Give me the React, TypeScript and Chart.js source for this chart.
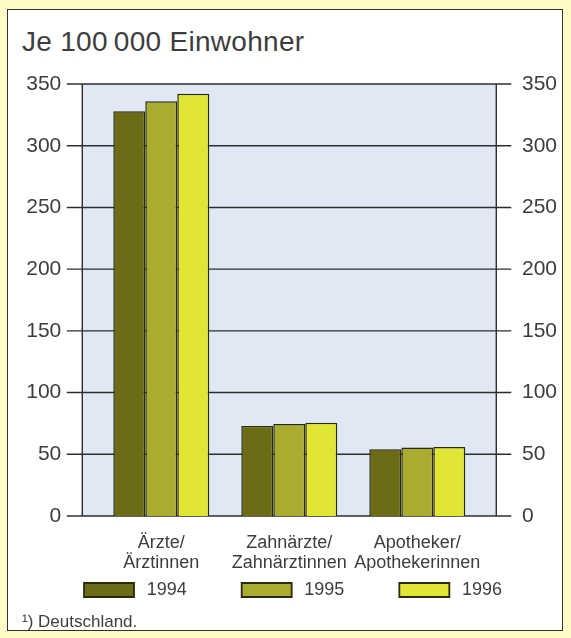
import React, { useEffect, useRef } from 'react';
import { Chart, registerables } from 'chart.js';

Chart.register(...registerables);

// ---- data ----
const categories: string[][] = [
  ['Ärzte/', 'Ärztinnen'],
  ['Zahnärzte/', 'Zahnärztinnen'],
  ['Apotheker/', 'Apothekerinnen'],
];
const seriesLabels = ['1994', '1995', '1996'];
const values1994 = [328, 73, 54];
const values1995 = [336, 74.5, 55.5];
const values1996 = [342, 75.5, 56];
const yTickValues = [0, 50, 100, 150, 200, 250, 300, 350];

const titleText = 'Je 100\u2009000 Einwohner';
const footnoteText = '\u00b9) Deutschland.';

// ---- styles ----
const FONT = "'Liberation Sans', Arial, Helvetica, sans-serif";
const TEXT = '#3d3d3d';
const LINE = '#2e2e2e';
const PANEL = '#dfe8f3';
const BAR_BORDER = '#2a2a0c';
const barColors = ['#6c6c16', '#a9ac2e', '#e1e533'];
const YELLOW = '#fffbc6';
const LEGEND_GAP = '         '; // widens the first legend items to the reference spacing

const panelPlugin = {
  id: 'panelBg',
  beforeDatasetsDraw(chart: any) {
    const { ctx, chartArea: a, scales } = chart;
    const y = scales.y;
    const left = a.left - 15;
    const right = a.right + 15;
    const top = y.getPixelForValue(yTickValues[yTickValues.length - 1]);
    const bottom = y.getPixelForValue(0);
    ctx.save();
    ctx.fillStyle = PANEL;
    ctx.fillRect(left, top, right - left, bottom - top);
    ctx.strokeStyle = LINE;
    ctx.lineWidth = 1.4;
    for (const t of yTickValues) {
      const py = y.getPixelForValue(t);
      ctx.beginPath();
      ctx.moveTo(left - 15.5, py);
      ctx.lineTo(right + 15, py);
      ctx.stroke();
    }
    ctx.beginPath();
    ctx.moveTo(left, top);
    ctx.lineTo(left, bottom);
    ctx.moveTo(right, top);
    ctx.lineTo(right, bottom);
    ctx.stroke();
    ctx.restore();
  },
};

export default function App() {
  const canvasRef = useRef<HTMLCanvasElement | null>(null);

  useEffect(() => {
    document.body.style.margin = '0';
    const canvas = canvasRef.current;
    if (!canvas) return;
    Chart.defaults.font.family = FONT;
    Chart.defaults.color = TEXT;

    const series = [values1994, values1995, values1996];
    const chart = new Chart(canvas, {
      type: 'bar',
      data: {
        labels: categories,
        datasets: series.map((vals, i) => ({
          label: seriesLabels[i],
          data: vals,
          backgroundColor: barColors[i],
          borderColor: BAR_BORDER,
          borderWidth: 1.5,
          categoryPercentage: 0.75,
          barPercentage: 1.0,
          yAxisID: 'y',
        })),
      },
      options: {
        animation: false,
        responsive: false,
        layout: { padding: { top: 84, left: 15, right: 0, bottom: 29 } },
        plugins: {
          tooltip: { enabled: false },
          title: { display: false },
          legend: {
            display: true,
            position: 'bottom',
            labels: {
              boxWidth: 50,
              boxHeight: 14,
              padding: 10,
              color: TEXT,
              font: { size: 18, family: FONT },
              generateLabels: (ch: any) => {
                const items = Chart.defaults.plugins.legend.labels.generateLabels(ch);
                return items.map((l: any, i: number) => ({
                  ...l,
                  text: '\u2009' + l.text + (i < items.length - 1 ? LEGEND_GAP : ''),
                  lineWidth: 1.8,
                  strokeStyle: BAR_BORDER,
                }));
              },
            },
          },
        },
        scales: {
          x: {
            grid: { display: false, drawTicks: false },
            border: { display: false },
            ticks: {
              color: TEXT,
              font: { size: 18, family: FONT, lineHeight: 1.1 },
              padding: 17,
              maxRotation: 0,
              autoSkip: false,
            },
            afterFit: (s: any) => { s.height = 55; },
          },
          y: {
            position: 'left',
            min: 0,
            max: 350,
            grid: { display: false, drawTicks: false },
            border: { display: false },
            ticks: {
              stepSize: 50,
              color: TEXT,
              font: { size: 21, family: FONT },
              padding: 36,
            },
            afterFit: (s: any) => { s.width = 82.3; },
          },
          y2: {
            position: 'right',
            min: 0,
            max: 350,
            grid: { display: false, drawTicks: false },
            border: { display: false },
            ticks: {
              stepSize: 50,
              color: TEXT,
              font: { size: 21, family: FONT },
              padding: 40.7,
            },
            afterFit: (s: any) => { s.width = 89.7; },
          },
        },
      },
      plugins: [panelPlugin],
    } as any);

    return () => chart.destroy();
  }, []);

  return (
    <div style={{ position: 'relative', width: 571, height: 638, background: YELLOW, overflow: 'hidden' }}>
      <div
        style={{
          position: 'absolute',
          left: 7,
          top: 9,
          width: 556,
          height: 622,
          boxSizing: 'border-box',
          border: '1.5px solid #333',
          background: '#ffffff',
        }}
      />
      <div
        style={{
          position: 'absolute',
          left: 22,
          top: 28,
          fontFamily: FONT,
          fontSize: 28,
          letterSpacing: '0.3px',
          lineHeight: 1,
          color: TEXT,
          whiteSpace: 'nowrap',
        }}
      >
        {titleText}
      </div>
      <canvas
        ref={canvasRef}
        width={571}
        height={638}
        style={{ position: 'absolute', left: 0, top: 0, width: 571, height: 638 }}
      />
      <div
        style={{
          position: 'absolute',
          left: 22,
          top: 613,
          fontFamily: FONT,
          fontSize: 17,
          lineHeight: 1,
          color: TEXT,
          whiteSpace: 'nowrap',
        }}
      >
        {footnoteText}
      </div>
    </div>
  );
}
